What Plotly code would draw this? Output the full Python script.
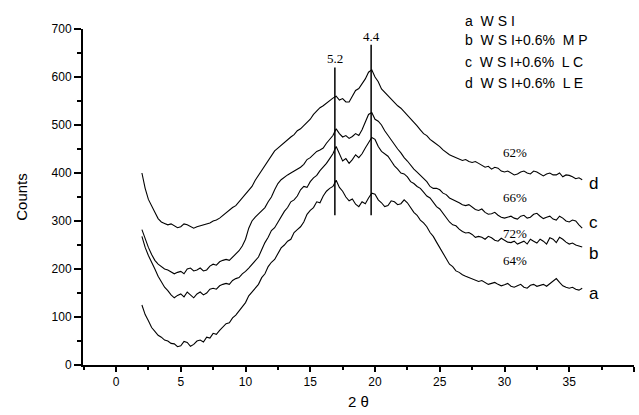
import plotly.graph_objects as go

theta_start = 2.0
theta_step = 0.25

counts_a = [125, 105, 92, 78, 70, 62, 58, 52, 50, 45, 44, 38, 40, 49, 47, 39, 43, 50, 52, 48,
            58, 56, 66, 64, 72, 80, 86, 88, 98, 104, 112, 122, 130, 144, 152, 158, 168, 182, 190, 205,
            214, 220, 232, 244, 250, 258, 262, 276, 282, 288, 298, 314, 322, 328, 340, 338, 352, 362,
            368, 372, 385, 370, 362, 350, 342, 346, 335, 330, 340, 336, 348, 358, 356, 344, 338, 330,
            332, 342, 340, 334, 336, 344, 338, 328, 318, 312, 302, 296, 288, 276, 268, 256, 245, 232,
            222, 210, 205, 196, 193, 188, 185, 182, 180, 176, 174, 176, 172, 168, 170, 172, 168, 165,
            167, 170, 164, 162, 165, 168, 162, 160, 166, 168, 164, 166, 168, 164, 170, 174, 180, 172,
            165, 162, 160, 162, 158, 156, 160]
counts_b = [268, 245, 228, 212, 200, 185, 172, 162, 155, 146, 140, 145, 148, 142, 152, 146, 140, 148,
            152, 146, 150, 158, 160, 158, 165, 168, 170, 168, 176, 180, 182, 190, 195, 202, 210, 216,
            225, 240, 255, 266, 280, 286, 298, 310, 320, 328, 340, 344, 352, 365, 372, 370, 382, 390,
            395, 405, 412, 420, 430, 440, 455, 438, 425, 430, 420, 428, 438, 432, 440, 452, 462, 474,
            470, 455, 445, 440, 435, 425, 415, 408, 400, 398, 392, 382, 378, 372, 368, 360, 352, 348,
            340, 330, 325, 316, 308, 298, 292, 290, 283, 278, 275, 276, 272, 266, 268, 266, 262, 268,
            265, 260, 258, 264, 260, 256, 255, 258, 252, 255, 258, 252, 262, 258, 254, 262, 258, 252,
            265, 262, 255, 266, 262, 256, 252, 254, 250, 248, 246]
counts_c = [282, 262, 245, 230, 218, 210, 205, 200, 198, 194, 190, 193, 195, 190, 200, 202, 196, 198,
            202, 196, 198, 206, 210, 208, 215, 218, 220, 218, 225, 232, 238, 248, 262, 285, 300, 308,
            315, 320, 328, 340, 350, 365, 378, 386, 392, 396, 400, 404, 408, 412, 418, 428, 432, 438,
            445, 448, 452, 462, 470, 478, 492, 482, 475, 478, 472, 476, 482, 478, 490, 505, 522, 526,
            512, 508, 500, 488, 478, 468, 460, 450, 442, 432, 425, 416, 408, 402, 395, 390, 382, 372,
            368, 368, 365, 358, 355, 348, 345, 342, 338, 334, 332, 334, 328, 324, 322, 325, 318, 314,
            315, 318, 312, 308, 306, 308, 310, 306, 304, 310, 312, 306, 308, 314, 316, 310, 305, 308,
            310, 304, 302, 310, 306, 300, 298, 302, 300, 292, 285]
counts_d = [400, 368, 345, 330, 318, 305, 298, 295, 292, 294, 290, 286, 288, 294, 292, 288, 285, 288,
            290, 292, 295, 296, 300, 302, 306, 312, 318, 322, 328, 332, 340, 348, 355, 362, 372, 385,
            395, 405, 415, 424, 435, 446, 452, 458, 465, 470, 475, 480, 488, 492, 498, 506, 512, 522,
            530, 536, 540, 546, 552, 556, 560, 552, 555, 548, 548, 560, 572, 576, 585, 596, 610, 615,
            600, 590, 575, 568, 560, 552, 545, 540, 535, 528, 520, 512, 505, 498, 490, 482, 478, 470,
            465, 460, 455, 448, 442, 438, 435, 432, 430, 426, 428, 424, 422, 424, 420, 416, 412, 414,
            408, 412, 410, 404, 402, 404, 400, 396, 398, 402, 404, 400, 398, 404, 402, 398, 394, 398,
            400, 396, 396, 400, 392, 396, 395, 392, 388, 390, 386]

series = [("a", counts_a), ("b", counts_b), ("c", counts_c), ("d", counts_d)]
curve_label_y = [150, 233, 296, 379]

peak_pos = [16.9, 19.7]
peak_low = [312, 312]
peak_high = [620, 667]
peak_text = ["5.2", "4.4"]

pct_text = ["62%", "66%", "72%", "64%"]
pct_y = [442, 350, 275, 217]

legend_text = ["a  W S I", "b  W S I+0.6%  M P", "c  W S I+0.6%  L C", "d  W S I+0.6%  L E"]
legend_row = [1.024, 0.968, 0.903, 0.838]

fig = go.Figure()
for name, ys in series:
    xs = [theta_start + theta_step * i for i in range(len(ys))]
    fig.add_trace(go.Scatter(x=xs, y=ys, mode="lines", name=name,
                             line=dict(color="black", width=1.1), showlegend=False))

for xp, lo, hi in zip(peak_pos, peak_low, peak_high):
    fig.add_trace(go.Scatter(x=[xp, xp], y=[lo, hi], mode="lines",
                             line=dict(color="black", width=1.5), showlegend=False))

annotations = []
for xp, hi, t in zip(peak_pos, peak_high, peak_text):
    annotations.append(dict(x=xp, y=hi, text=t, showarrow=False, yanchor="bottom", yshift=-1,
                            font=dict(family="Liberation Serif", size=13, color="black")))
for (name, _), ly in zip(series, curve_label_y):
    annotations.append(dict(x=36.9, y=ly, text=name, showarrow=False,
                            font=dict(family="Liberation Sans", size=17, color="black")))
for t, py in zip(pct_text, pct_y):
    annotations.append(dict(x=30.8, y=py, text=t, showarrow=False,
                            font=dict(family="Liberation Serif", size=13, color="black")))
for t, py in zip(legend_text, legend_row):
    annotations.append(dict(x=0.69, y=py, xref="paper", yref="paper", text=t, showarrow=False,
                            xanchor="left", yanchor="middle",
                            font=dict(family="Liberation Sans", size=14, color="black")))

fig.update_layout(
    width=639, height=415,
    margin=dict(l=83, r=5, t=29, b=50),
    paper_bgcolor="white", plot_bgcolor="white",
    annotations=annotations,
    xaxis=dict(range=[-2.55, 40], tickvals=[0, 5, 10, 15, 20, 25, 30, 35, 40],
               ticks="outside", ticklen=5, tickwidth=1.5, tickcolor="black",
               showline=True, linecolor="black", linewidth=2, showgrid=False, zeroline=False,
               minor=dict(ticks="outside", dtick=2.5, tick0=0, ticklen=3, tickcolor="black"),
               tickfont=dict(family="Liberation Sans", size=12, color="black"),
               title=dict(text="2 θ", font=dict(family="Liberation Sans", size=15, color="black"),
                          standoff=8)),
    yaxis=dict(range=[0, 700], tickvals=[0, 100, 200, 300, 400, 500, 600, 700],
               ticks="outside", ticklen=7, tickwidth=1.5, tickcolor="black",
               showline=True, linecolor="black", linewidth=2, showgrid=False, zeroline=False,
               minor=dict(ticks="outside", dtick=50, tick0=0, ticklen=4, tickcolor="black"),
               tickfont=dict(family="Liberation Sans", size=12, color="black"),
               title=dict(text="Counts", font=dict(family="Liberation Sans", size=15, color="black"),
                          standoff=20)),
)

fig.write_html("out.html")
